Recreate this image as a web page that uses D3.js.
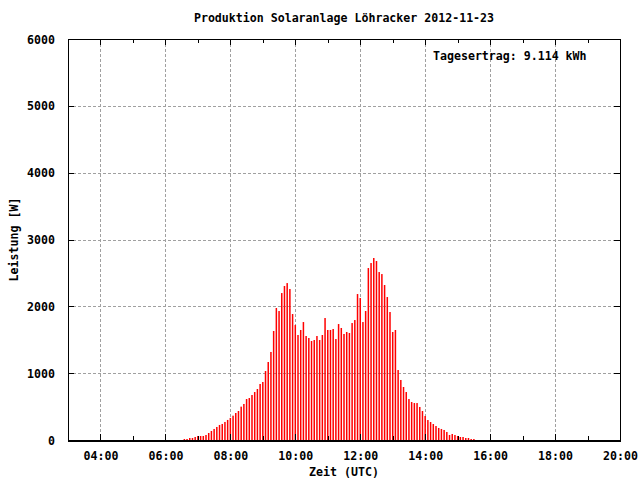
<!DOCTYPE html>
<html><head><meta charset="utf-8">
<script src="https://cdn.jsdelivr.net/npm/d3@7/dist/d3.min.js"></script>
<style>
html,body{margin:0;padding:0;background:#fff;}
svg text{font-family:"DejaVu Sans Mono",monospace;font-weight:bold;font-size:11.6px;fill:#000;}
</style></head><body>
<script>
// Data: 5-minute power readings (W), starting at 06:35 UTC
const startTime = "06:35";
const intervalMinutes = 5;
const power = [
  15,15,30,30,45,60,60,60,75,105,135,165,195,225,240,270,300,
  330,364,404,434,499,539,613,628,673,718,763,838,868,1032,1167,1317,1631,1975,1930,2199,2304,2348,2259,
  1885,1720,1571,1646,1765,1556,1526,1481,1496,1556,1496,1571,1825,1646,1646,1661,1511,1735,1676,1586,
  1616,1601,1750,1795,2184,2124,1765,1930,2573,2648,2723,2678,2513,2483,2319,2139,1915,1616,1646,1047,
  898,793,718,613,568,553,553,494,434,359,299,269,239,209,180,165,150,120,75,90,75,60,45,45,30,30,15,15
];
const xTickHours = [4,6,8,10,12,14,16,18,20];
const xMinorHours = [3,5,7,9,11,13,15,17,19];
const yTicks = [0,1000,2000,3000,4000,5000,6000];
const title = "Produktion Solaranlage Löhracker 2012-11-23";
const xLabel = "Zeit (UTC)";
const yLabel = "Leistung [W]";
const note = "Tagesertrag: 9.114 kWh";

const W = 640, H = 480;
const L = 68, R = 620, T = 39, B = 440;
const [sh, sm] = startTime.split(":").map(Number);
const t0 = sh + sm/60;
const data = power.map((v,i)=>({t: t0 + i*intervalMinutes/60, v}));

const x = d3.scaleLinear().domain([3,20]).range([L,R]);
const y = d3.scaleLinear().domain([0,6000]).range([B,T]);
const fmt = h => String(h).padStart(2,"0") + ":00";

const svg = d3.select("body").append("svg").attr("width",W).attr("height",H);

// grid
const grid = svg.append("g").attr("stroke","#a0a0a0").attr("stroke-width",1)
  .attr("stroke-dasharray","3,2").attr("shape-rendering","crispEdges");
grid.selectAll(".vg").data(xTickHours.filter(h=>h>3&&h<20)).enter().append("line")
  .attr("x1",d=>Math.round(x(d))+0.5).attr("x2",d=>Math.round(x(d))+0.5)
  .attr("y1",T).attr("y2",B);
grid.selectAll(".hg").data(yTicks.filter(v=>v>0&&v<6000)).enter().append("line")
  .attr("y1",d=>Math.round(y(d))+0.5).attr("y2",d=>Math.round(y(d))+0.5)
  .attr("x1",L).attr("x2",R);

// bars (impulses)
svg.append("g").attr("fill","#ff0000")
  .selectAll("rect").data(data).enter().append("rect")
  .attr("x",d=>x(d.t)-0.75).attr("width",1.5)
  .attr("y",d=>y(d.v)).attr("height",d=>B-y(d.v));

// axes via d3 axis generators (inward ticks)
const xb = svg.append("g").attr("transform",`translate(0,${B})`)
  .call(d3.axisBottom(x).tickValues(xTickHours).tickFormat(fmt).tickSizeInner(-6).tickSizeOuter(0).tickPadding(12));
const xt = svg.append("g").attr("transform",`translate(0,${T})`)
  .call(d3.axisTop(x).tickValues(xTickHours).tickFormat("").tickSizeInner(-6).tickSizeOuter(0));
const xbm = svg.append("g").attr("transform",`translate(0,${B})`)
  .call(d3.axisBottom(x).tickValues(xMinorHours).tickFormat("").tickSizeInner(-4).tickSizeOuter(0));
const xtm = svg.append("g").attr("transform",`translate(0,${T})`)
  .call(d3.axisTop(x).tickValues(xMinorHours).tickFormat("").tickSizeInner(-4).tickSizeOuter(0));
const yl = svg.append("g").attr("transform",`translate(${L},0)`)
  .call(d3.axisLeft(y).tickValues(yTicks).tickFormat(d3.format("d")).tickSizeInner(-6).tickSizeOuter(0).tickPadding(13));
const yr = svg.append("g").attr("transform",`translate(${R},0)`)
  .call(d3.axisRight(y).tickValues(yTicks).tickFormat("").tickSizeInner(-6).tickSizeOuter(0));
[xb,xt,xbm,xtm,yl,yr].forEach(g=>{
  g.select(".domain").remove();
  g.selectAll("line").attr("stroke","#000").attr("shape-rendering","crispEdges");
  g.selectAll("text").attr("font-family",null).attr("font-size",null).style("font-family",'"DejaVu Sans Mono",monospace').style("font-weight","bold").style("font-size","11.6px");
});
yl.selectAll("text").attr("dy","0.35em");

// frame
svg.append("rect").attr("x",L+0.5).attr("y",T+0.5).attr("width",R-L).attr("height",B-T)
  .attr("fill","none").attr("stroke","#000").attr("stroke-width",1).attr("shape-rendering","crispEdges");
svg.append("line").attr("x1",L).attr("x2",R+1).attr("y1",B+1).attr("y2",B+1)
  .attr("stroke","#000").attr("stroke-width",2).attr("shape-rendering","crispEdges");

// texts
svg.append("text").attr("x",(L+R)/2).attr("y",22).attr("text-anchor","middle").text(title);
svg.append("text").attr("x",(L+R)/2).attr("y",476).attr("text-anchor","middle").text(xLabel);
svg.append("text").attr("transform",`translate(18,${(T+B)/2}) rotate(-90)`).attr("text-anchor","middle").text(yLabel);
svg.append("text").attr("x",433).attr("y",60).text(note);
</script>
</body></html>
